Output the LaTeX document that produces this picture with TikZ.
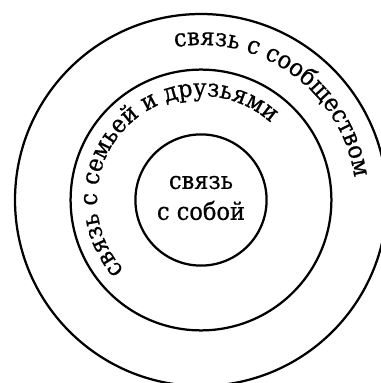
\documentclass[tikz,border=0pt]{standalone}
\usepackage{fontspec}
\setmainfont{DejaVu Serif}
\newfontfamily\ringfont[FakeBold=0.6,FakeStretch=0.92]{DejaVu Serif}
\usetikzlibrary{decorations.text}

\begin{document}
\begin{tikzpicture}[ring/.style={line width=1.6pt},
    bigtext/.style={font=\ringfont\fontsize{17.4}{22}\selectfont}]
   \useasboundingbox (0,0) rectangle (9.525,9.575);
   \coordinate (c) at (5.025,4.575);
   % three rings
   \draw[ring] (c) circle (1.64);
   \draw[ring] (c) circle (3.26);
   \draw[ring] (c) circle (4.65);
   \node[bigtext, align=center] (self) at ([yshift=0.05cm]c) {связь\\с собой};
   % curved labels
   \path[decorate, decoration={text along path, text align=center,
      text={|\ringfont\fontsize{17.4}{22}\selectfont|связь с семьей и друзьями}}]
      (c) ++(228:2.6) arc[start angle=228, end angle=42, radius=2.6];
   \path[decorate, decoration={text along path, text align=center,
      text={|\ringfont\fontsize{17.4}{22}\selectfont|связь с сообществом}}]
      (c) ++(144:3.875) arc[start angle=144, end angle=-36, radius=3.875];
\end{tikzpicture}
\end{document}
